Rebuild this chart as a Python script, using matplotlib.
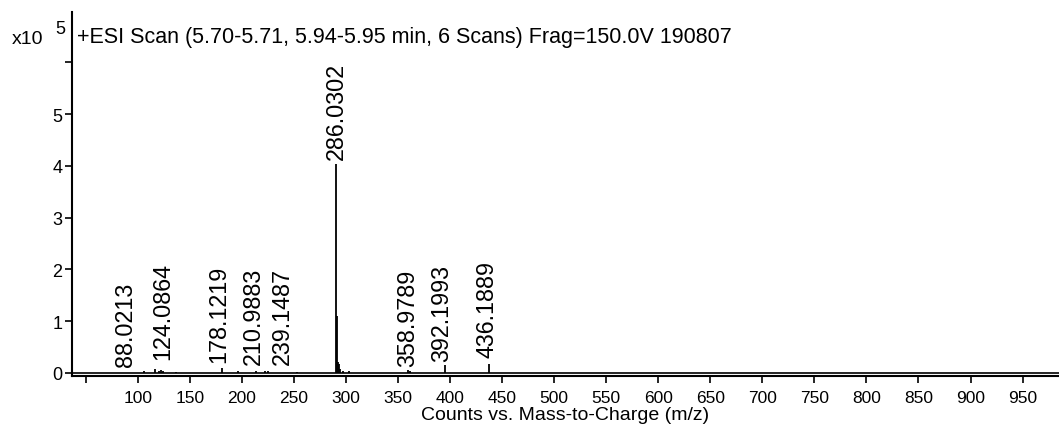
import matplotlib
matplotlib.use("Agg")
import matplotlib.pyplot as plt

plt.rcParams['font.family'] = ['Liberation Sans', 'DejaVu Sans']

# Spectrum sticks (m/z, counts in units of 1e5)
peak_mz = [106, 116.7, 120, 122, 124, 136.5, 180.7, 196.7, 214, 222, 225, 252.7,
           290.5, 291.5, 292.5, 293.5, 294.5, 297, 303,
           359.5, 361.5, 395.3, 437.8]
peak_int = [0.03, 0.08, 0.04, 0.05, 0.04, 0.02, 0.10, 0.04, 0.03, 0.04, 0.04, 0.02,
            4.03, 1.10, 0.21, 0.18, 0.08, 0.03, 0.03,
            0.06, 0.04, 0.15, 0.17]

# Peak annotations
label_text = ["88.0213", "124.0864", "178.1219", "210.9883", "239.1487",
              "286.0302", "358.9789", "392.1993", "436.1889"]
label_pos = [88, 124, 178, 211, 239, 290.5, 359, 392, 436]
label_h = [0.135, 0.27, 0.21, 0.17, 0.17, 4.13, 0.14, 0.24, 0.30]

x_ticks = [50] + list(range(100, 1000, 50))
x_ticklabels = [""] + [str(v) for v in range(100, 1000, 50)]
y_ticks = [0, 1, 2, 3, 4, 5, 6]
y_ticklabels = ["0", "1", "2", "3", "4", "5", ""]

title = "+ESI Scan (5.70-5.71, 5.94-5.95 min, 6 Scans) Frag=150.0V 190807"
xlabel = "Counts vs. Mass-to-Charge (m/z)"

fig = plt.figure(figsize=(10.59, 4.35), dpi=100)
ax = fig.add_axes([72/1059, 58/435, 987/1059, 364/435])

ax.vlines(peak_mz, 0, peak_int, color='black', lw=1.3)
ax.axhline(0, color='black', lw=1.2)

for t, x, h in zip(label_text, label_pos, label_h):
    ax.text(x, h, t, rotation=90, ha='center', va='bottom', fontsize=16.8)

ax.set_xlim(36.9, 985)
ax.set_ylim(-0.058, 6.97)
ax.set_xticks(x_ticks)
ax.set_xticklabels(x_ticklabels, fontsize=12.5)
ax.set_yticks(y_ticks)
ax.set_yticklabels(y_ticklabels, fontsize=13)
ax.tick_params(axis='both', direction='out', length=5, width=1.2, color='black')
ax.tick_params(axis='x', pad=5)
ax.tick_params(axis='y', pad=2)
for s in ['top', 'right']:
    ax.spines[s].set_visible(False)
for s in ['left', 'bottom']:
    ax.spines[s].set_linewidth(1.5)
    ax.spines[s].set_color('black')

ax.set_xlabel(xlabel, fontsize=14, labelpad=1)
ax.text(0.005, 0.934, title, transform=ax.transAxes, ha='left', va='center', fontsize=15.5)

fig.text(12/1059, 1 - 40/435, "x10", ha='left', va='center', fontsize=14)
fig.text(55/1059, 1 - 30/435, "5", ha='left', va='center', fontsize=13)

fig.savefig("out.png", dpi=100)
